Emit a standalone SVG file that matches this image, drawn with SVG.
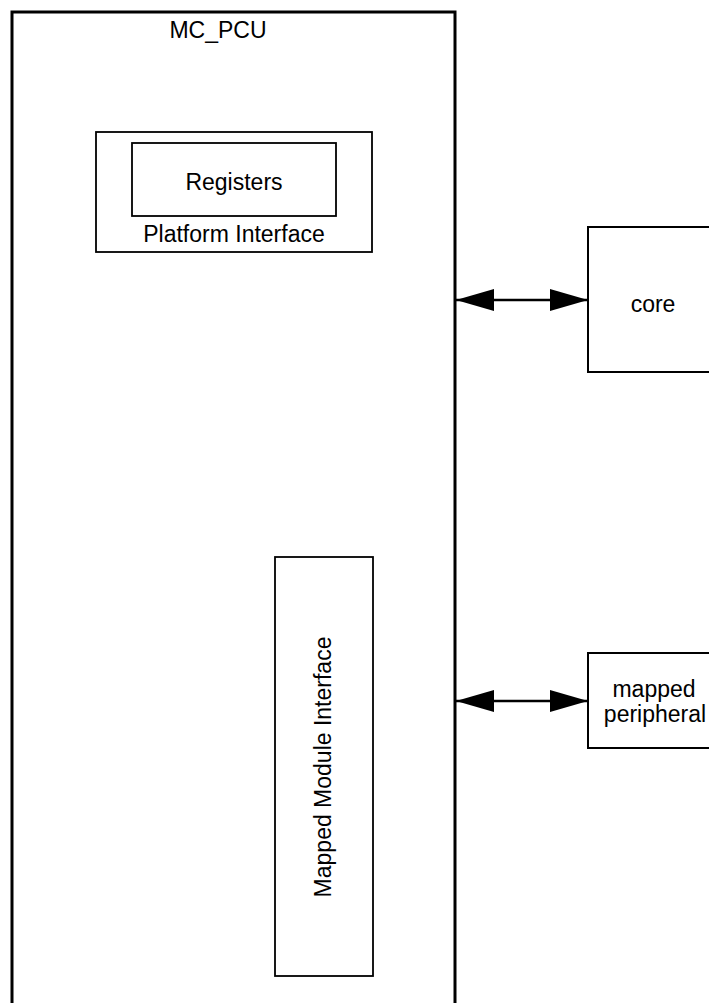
<svg xmlns="http://www.w3.org/2000/svg" width="709" height="1003" viewBox="0 0 709 1003">
<style>
text { font-family: "Liberation Sans", Arial, sans-serif; font-size: 23px; fill: #000; }
.box { fill: none; stroke: #000; }
.conn { stroke: #000; stroke-width: 2.5; fill: none; }
</style>
<defs>
<marker id="ah" viewBox="0 0 38 22" refX="38" refY="11" markerWidth="38" markerHeight="22" markerUnits="userSpaceOnUse" orient="auto-start-reverse">
<path d="M0,0 L38,11 L0,22 Z" fill="#000"/>
</marker>
</defs>
<rect width="709" height="1003" fill="#fff"/>
<g id="mc_pcu">
<rect class="box" x="12" y="12" width="443" height="1010" stroke-width="3"/>
<text x="218" y="38" text-anchor="middle">MC_PCU</text>
</g>
<g id="platform_interface">
<rect class="box" x="96" y="132" width="276" height="120" stroke-width="1.8"/>
<text x="234" y="242" text-anchor="middle">Platform Interface</text>
</g>
<g id="registers">
<rect class="box" x="132" y="143" width="204" height="73" stroke-width="1.8"/>
<text x="234" y="190" text-anchor="middle">Registers</text>
</g>
<g id="mapped_module_interface">
<rect class="box" x="275" y="557" width="98" height="419" stroke-width="1.8"/>
<text x="0" y="0" text-anchor="middle" transform="translate(331,767) rotate(-90)">Mapped Module Interface</text>
</g>
<g id="core">
<rect class="box" x="588" y="227" width="140" height="145" stroke-width="2"/>
<text x="653" y="312" text-anchor="middle">core</text>
</g>
<g id="mapped_peripheral">
<rect class="box" x="588" y="653" width="140" height="95" stroke-width="2"/>
<text x="654" y="697" text-anchor="middle">mapped</text>
<text x="655" y="722" text-anchor="middle">peripheral</text>
</g>
<g id="connectors">
<line class="conn" x1="456" y1="300" x2="588" y2="300" marker-start="url(#ah)" marker-end="url(#ah)"/>
<line class="conn" x1="456" y1="701" x2="588" y2="701" marker-start="url(#ah)" marker-end="url(#ah)"/>
</g>
</svg>
